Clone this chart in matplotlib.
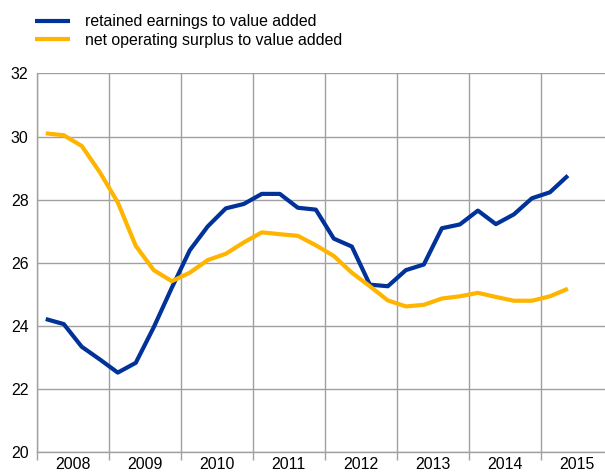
import numpy as np
import matplotlib
matplotlib.use('Agg')
import matplotlib.pyplot as plt
from matplotlib.ticker import FixedLocator

plt.rcParams['font.family'] = ['Liberation Sans', 'DejaVu Sans']

years = ['2008', '2009', '2010', '2011', '2012', '2013', '2014', '2015']
# quarterly values, 2008Q1 - 2015Q2
retained = [24.21, 24.05, 23.33, 22.93, 22.51, 22.82, 23.95, 25.20,
            26.39, 27.15, 27.72, 27.86, 28.18, 28.18, 27.74, 27.68,
            26.76, 26.51, 25.30, 25.25, 25.76, 25.94, 27.09, 27.21,
            27.65, 27.22, 27.53, 28.04, 28.23, 28.76]
surplus = [30.10, 30.04, 29.70, 28.87, 27.91, 26.53, 25.76, 25.41,
           25.68, 26.08, 26.28, 26.64, 26.96, 26.90, 26.85, 26.55,
           26.21, 25.68, 25.25, 24.80, 24.61, 24.66, 24.86, 24.93,
           25.04, 24.91, 24.79, 24.79, 24.93, 25.17]

BLUE = '#003299'
YELLOW = '#FFB400'
GRID = '#a0a0a0'
FS = 11.4

x = (np.arange(len(retained)) + 0.5) / 4.0

fig = plt.figure(figsize=(6.05, 4.74), dpi=100)
ax = fig.add_axes([0.0607, 0.047, 0.9393, 0.798])

ax.plot(x, retained, color=BLUE, lw=3, label='retained earnings to value added', solid_capstyle='butt')
ax.plot(x, surplus, color=YELLOW, lw=3, label='net operating surplus to value added', solid_capstyle='butt')

ax.set_xlim(0, 7.89)
ax.set_ylim(20, 32)
ax.set_yticks(np.arange(20, 33, 2))
ax.xaxis.set_major_locator(FixedLocator(np.arange(0, 8)))
ax.xaxis.set_minor_locator(FixedLocator(np.arange(len(years)) + 0.5))
ax.set_xticklabels([], minor=False)
ax.set_xticklabels(years, minor=True)
ax.tick_params(axis='x', which='major', length=6, color=GRID, width=1)
ax.tick_params(axis='x', which='minor', length=0, labelsize=FS, pad=4)
ax.tick_params(axis='y', length=0, labelsize=FS, pad=6)

ax.grid(True, which='major', color=GRID, lw=1)
ax.set_axisbelow(True)
for s in ['top', 'right']:
    ax.spines[s].set_visible(False)
for s in ['left', 'bottom']:
    ax.spines[s].set_color(GRID)
    ax.spines[s].set_linewidth(1)

fig.legend(loc='upper left', bbox_to_anchor=(0.04, 0.993), frameon=False,
           fontsize=FS, handlelength=2.2, handletextpad=0.95, labelspacing=0.2,
           borderaxespad=0.3)

fig.savefig('out.png', dpi=100)
